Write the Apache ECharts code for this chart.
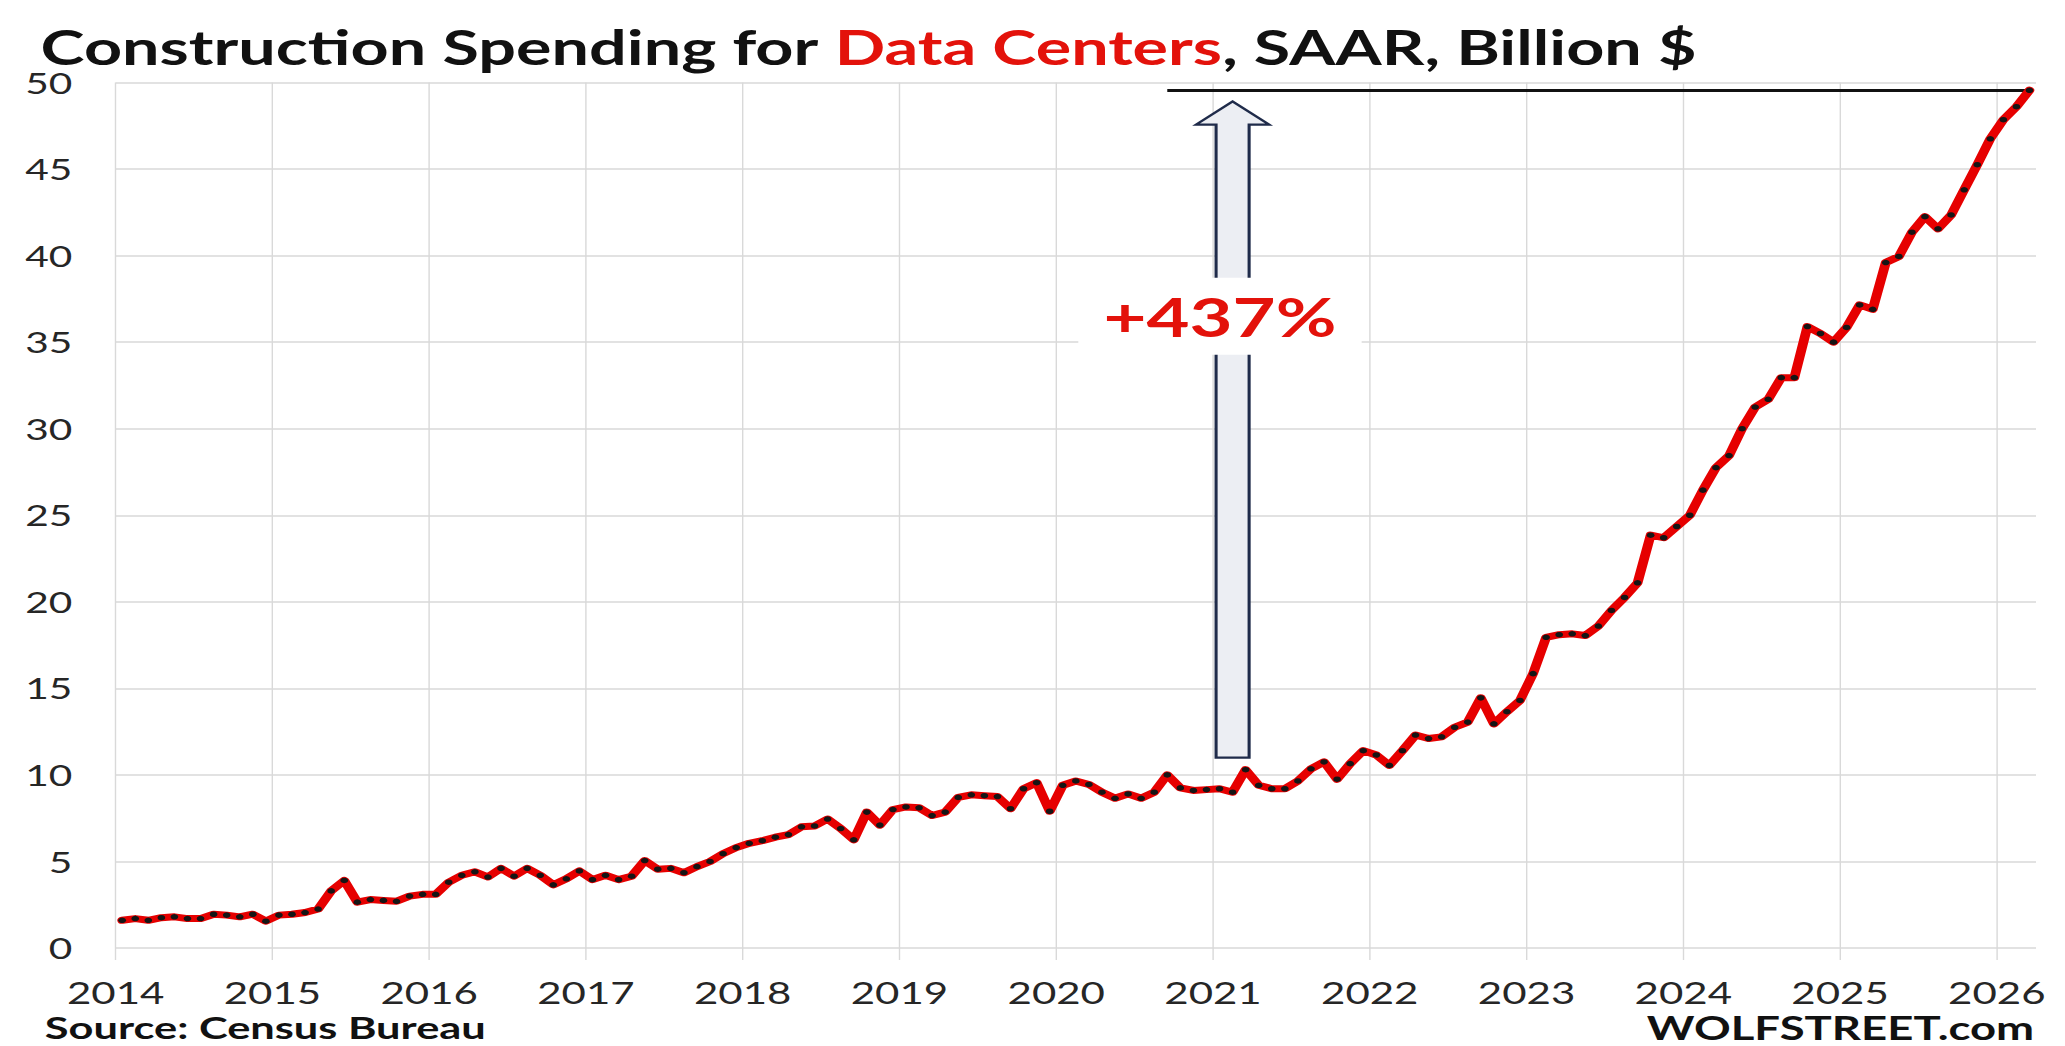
<!DOCTYPE html>
<html>
<head>
<meta charset="utf-8">
<script src="https://cdn.jsdelivr.net/npm/echarts@6/dist/echarts.min.js"></script>
<style>
  html, body { margin: 0; padding: 0; background: #ffffff; overflow: hidden; }
  #wrap { width: 2065px; height: 1046px; overflow: hidden; position: relative; background: #fff; }
  /* the reference picture is horizontally stretched; draw at 1/1.4 width and stretch */
  #chart { width: 1475px; height: 1046px; transform: scaleX(1.4); transform-origin: 0 0; }
</style>
</head>
<body>
<div id="wrap"><div id="chart"></div></div>
<script>
// ---------- text ----------
const titleBlack1 = 'Construction Spending for ';
const titleRed = 'Data Centers';
const titleBlack2 = ', SAAR, Billion $';
const sourceText = 'Source: Census Bureau';
const brandText = 'WOLFSTREET.com';
const changeLabel = '+437%';

// ---------- axes ----------
const yearTicks = [2014, 2015, 2016, 2017, 2018, 2019, 2020, 2021, 2022, 2023, 2024, 2025, 2026];
const yTicks = [0, 5, 10, 15, 20, 25, 30, 35, 40, 45, 50];

// ---------- data: monthly values, billion $ (SAAR), starting Jan 2014 ----------
const v2014 = [1.6, 1.7, 1.6, 1.75, 1.8, 1.7, 1.7, 1.95, 1.9, 1.8, 1.95, 1.55];
const v2015 = [1.9, 1.95, 2.05, 2.25, 3.3, 3.9, 2.65, 2.8, 2.75, 2.7, 3.0, 3.1];
const v2016 = [3.1, 3.8, 4.2, 4.4, 4.1, 4.6, 4.15, 4.6, 4.2, 3.65, 4.0, 4.45];
const v2017 = [3.95, 4.2, 3.95, 4.15, 5.05, 4.55, 4.6, 4.35, 4.7, 5.0, 5.45, 5.8];
const v2018 = [6.05, 6.2, 6.4, 6.55, 7.0, 7.05, 7.45, 6.9, 6.25, 7.85, 7.1, 8.0];
const v2019 = [8.15, 8.1, 7.65, 7.85, 8.7, 8.85, 8.8, 8.75, 8.05, 9.2, 9.55, 7.9];
const v2020 = [9.4, 9.65, 9.45, 9.0, 8.65, 8.9, 8.65, 9.0, 10.0, 9.25, 9.1, 9.15];
const v2021 = [9.2, 9.0, 10.3, 9.4, 9.2, 9.2, 9.65, 10.35, 10.75, 9.75, 10.65, 11.4];
const v2022 = [11.15, 10.55, 11.4, 12.3, 12.1, 12.2, 12.75, 13.05, 14.45, 12.95, 13.65, 14.3];
const v2023 = [15.85, 17.95, 18.1, 18.15, 18.05, 18.6, 19.5, 20.25, 21.1, 23.85, 23.7, 24.35];
const v2024 = [25.0, 26.45, 27.75, 28.45, 30.0, 31.25, 31.7, 32.95, 32.95, 35.9, 35.5, 35.0];
const v2025 = [35.85, 37.15, 36.9, 39.6, 39.95, 41.35, 42.25, 41.55, 42.35, 43.8, 45.25, 46.75];
const v2026 = [47.85, 48.6, 49.55];

const valuesByYear = [v2014, v2015, v2016, v2017, v2018, v2019, v2020, v2021, v2022, v2023, v2024, v2025, v2026];

// annotation anchors (month labels and axis values)
const arrowMonth = '2021-02';
const arrowFrom = 11.0;
const arrowTo = 48.9;
const labelValue = 36.5;
const topLineStartMonth = '2020-09';

// ---------- build series ----------
const months = [];
const values = [];
valuesByYear.forEach((arr, yi) => {
  arr.forEach((v, mi) => {
    months.push((yearTicks[0] + yi) + '-' + String(mi + 1).padStart(2, '0'));
    values.push(v);
  });
});
// month 'YYYY-MM' -> position on a year axis (mid-month)
function monthPos(m) {
  const p = m.split('-');
  return Number(p[0]) + (Number(p[1]) - 0.5) / 12;
}
const lineData = months.map((m, i) => [monthPos(m), values[i]]);
const lastPoint = lineData[lineData.length - 1];
const lastValue = values[values.length - 1];

const RED = '#e3120b';
const GRID = '#d9d9d9';
const LABEL = '#262626';
const FONT = 'Lato, "Open Sans", sans-serif';

const chart = echarts.init(document.getElementById('chart'), null, { renderer: 'svg' });

const option = {
  animation: false,
  backgroundColor: '#ffffff',
  grid: { left: 82.6, right: 20.7, top: 82.5, bottom: 98, containLabel: false, outerBoundsMode: 'none' },
  xAxis: {
    type: 'value',
    min: yearTicks[0],
    max: 2026.25,
    interval: 1,
    axisLine: { show: false },
    axisTick: { show: true, length: 12, lineStyle: { color: GRID, width: 1 }, customValues: yearTicks },
    axisLabel: {
      customValues: yearTicks,
      margin: 29,
      fontSize: 30,
      fontFamily: FONT,
      color: LABEL,
      formatter: v => (Math.abs(v - Math.round(v)) < 1e-6 ? String(Math.round(v)) : '')
    },
    splitLine: { show: true, lineStyle: { color: GRID, width: 1 } }
  },
  yAxis: {
    type: 'value',
    min: yTicks[0],
    max: yTicks[yTicks.length - 1],
    interval: 5,
    axisLine: { show: false },
    axisTick: { show: false },
    axisLabel: { margin: 31, fontSize: 29, fontFamily: FONT, color: LABEL, lineHeight: 28 },
    splitLine: { show: true, lineStyle: { color: GRID, width: 1.5 } }
  },
  graphic: [
    {
      type: 'text', x: 29, y: 46.5, z: 100,
      style: {
        text: '{k|' + titleBlack1 + '}{r|' + titleRed + '}{k|' + titleBlack2 + '}',
        verticalAlign: 'middle', align: 'left',
        rich: {
          k: { fill: '#111111', fontSize: 47.5, fontWeight: 'bold', fontFamily: FONT, lineHeight: 40 },
          r: { fill: RED, fontSize: 47.5, fontWeight: 'bold', fontFamily: FONT, lineHeight: 40 }
        }
      }
    },
    {
      type: 'text', x: 32, y: 1027, z: 100,
      style: { text: sourceText, fill: '#111111', font: 'bold 31px ' + FONT, lineHeight: 26, verticalAlign: 'middle', align: 'left' }
    },
    {
      type: 'text', x: 1453, y: 1027, z: 100,
      style: { text: brandText, fill: '#111111', font: 'bold 32.5px ' + FONT, lineHeight: 26, verticalAlign: 'middle', align: 'right' }
    }
  ],
  series: [
    {
      type: 'custom',
      name: 'arrow',
      z: 3,
      silent: true,
      clip: false,
      data: [[monthPos(arrowMonth), arrowFrom, arrowTo, labelValue]],
      renderItem: function (params, api) {
        const x = api.value(0);
        const pb = api.coord([x, api.value(1)]);
        const pt = api.coord([x, api.value(2)]);
        const pl = api.coord([x, api.value(3)]);
        const sw = 11.8, hw = 26, hl = 23;
        const cx = pb[0];
        const pts = [
          [cx - sw, pb[1]], [cx - sw, pt[1] + hl], [cx - hw, pt[1] + hl], [cx, pt[1]],
          [cx + hw, pt[1] + hl], [cx + sw, pt[1] + hl], [cx + sw, pb[1]]
        ];
        return {
          type: 'group',
          children: [
            { type: 'polygon', shape: { points: pts }, style: { fill: '#eceef3', stroke: '#1f2b4a', lineWidth: 2.2 } },
            {
              type: 'text', x: cx - 9, y: pl[1],
              style: {
                text: changeLabel, fill: RED, fontSize: 53, fontWeight: 'bold', fontFamily: FONT,
                align: 'center', verticalAlign: 'middle', backgroundColor: '#ffffff', padding: [12, 18]
              }
            }
          ]
        };
      }
    },
    {
      type: 'line',
      name: 'Data Centers',
      z: 5,
      data: lineData,
      showSymbol: true,
      symbol: 'circle',
      symbolSize: 5.5,
      itemStyle: { color: '#151515', borderWidth: 0 },
      lineStyle: { color: '#e60000', width: 7, cap: 'round', join: 'round' },
      emphasis: { disabled: true },
      markLine: {
        silent: true,
        symbol: ['none', 'none'],
        label: { show: false },
        lineStyle: { color: '#111111', width: 3, type: 'solid' },
        data: [[
          { coord: [monthPos(topLineStartMonth), lastValue] },
          { coord: [lastPoint[0], lastValue] }
        ]]
      }
    }
  ]
};
chart.setOption(option);
</script>
</body>
</html>
